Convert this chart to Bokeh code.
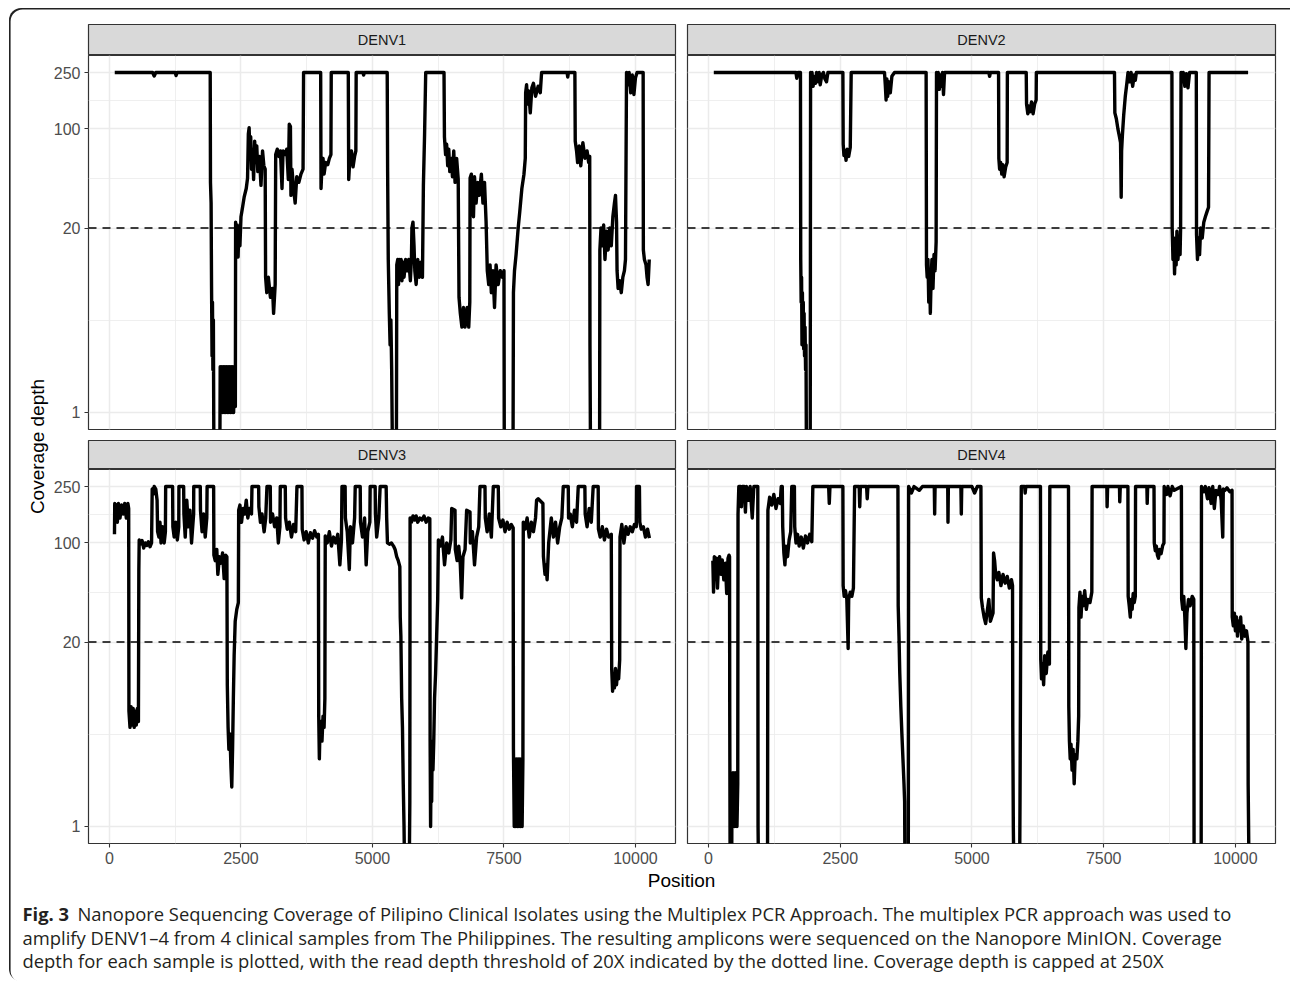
from bokeh.plotting import figure
from bokeh.layouts import column, row
from bokeh.models import Range1d, FixedTicker, Span, PrintfTickFormatter, Spacer
from bokeh.embed import file_html
from bokeh.resources import INLINE
from bokeh.core.properties import value
import math

# ---------------- data (position, coverage depth); 0 = no coverage ----------------
DENV1 = [
    (100, 250), (820, 250), (850, 236), (880, 250), (1250, 250), (1266, 238), (1285, 250),
    (1915, 250), (1920, 42), (1932, 30), (1940, 8), (1950, 2.5), (1958, 6), (1966, 2), (1975, 4.5), (1985, 0), (2098, 0),
    (2105, 2.1), (2120, 1), (2135, 2.1), (2150, 1), (2165, 2.1), (2180, 1), (2195, 2.1), (2210, 1), (2225, 2.1),
    (2240, 1), (2255, 2.1), (2270, 1), (2285, 2.1), (2300, 1), (2315, 2.1), (2330, 1), (2345, 2.1), (2360, 1),
    (2375, 2.1), (2393, 1.1),
    (2398, 22), (2415, 13), (2430, 21), (2445, 12.5), (2460, 20), (2480, 15), (2500, 24), (2530, 28), (2560, 33),
    (2600, 38), (2625, 45),
    (2640, 92), (2655, 102), (2670, 62), (2685, 88), (2700, 52), (2720, 72), (2740, 44), (2760, 82), (2780, 58),
    (2800, 76), (2820, 50), (2850, 64), (2880, 40), (2910, 70), (2935, 55), (2960, 52),
    (2968, 9), (2990, 7), (3020, 9), (3060, 6.5), (3100, 7.5), (3120, 5), (3150, 8),
    (3160, 66), (3190, 72), (3220, 64), (3250, 70), (3280, 38), (3300, 70), (3340, 66), (3370, 72), (3400, 44),
    (3418, 108), (3440, 104), (3450, 34), (3470, 52), (3500, 38), (3530, 30), (3560, 46), (3600, 42), (3640, 48),
    (3680, 52),
    (3690, 250), (4015, 250), (4022, 38), (4040, 55), (4060, 62), (4080, 48), (4110, 58), (4150, 56), (4180, 62),
    (4210, 66), (4216, 250),
    (4540, 250), (4548, 44), (4570, 62), (4600, 70), (4630, 54), (4660, 64), (4684, 70), (4690, 250),
    (4820, 250), (4832, 240), (4845, 250),
    (5280, 250), (5288, 50), (5300, 12), (5320, 5), (5335, 3), (5350, 4.5), (5365, 2), (5380, 0), (5455, 0),
    (5462, 11), (5480, 12), (5495, 8), (5510, 12), (5525, 9), (5545, 12), (5560, 8.5), (5580, 11.5), (5600, 9),
    (5630, 12), (5660, 10), (5690, 12), (5720, 8.5), (5740, 12), (5750, 20), (5770, 22), (5790, 15), (5805, 10),
    (5830, 8), (5860, 12), (5890, 9), (5920, 11.5), (5950, 9),
    (5968, 40), (5990, 90), (6012, 250), (6360, 250),
    (6368, 88), (6390, 66), (6410, 78), (6430, 55), (6450, 72), (6470, 50), (6500, 62), (6520, 46), (6545, 70),
    (6570, 42), (6600, 62), (6630, 44),
    (6645, 6.5), (6670, 5), (6700, 4), (6730, 5.5), (6760, 4), (6800, 5.5), (6830, 4), (6850, 6),
    (6856, 45), (6880, 48), (6900, 38), (6920, 24), (6940, 46), (6970, 30), (7000, 42), (7030, 34), (7070, 48),
    (7100, 30), (7130, 42), (7160, 22),
    (7183, 10), (7210, 8), (7235, 11), (7260, 7), (7290, 10), (7320, 5.5), (7350, 11), (7390, 8), (7430, 10),
    (7470, 9), (7500, 10),
    (7506, 0), (7672, 0), (7680, 7), (7700, 10), (7730, 13), (7770, 20), (7800, 26), (7840, 38), (7880, 48),
    (7905, 62),
    (7912, 180), (7930, 205), (7950, 150), (7970, 185), (8000, 130), (8030, 195), (8060, 210), (8100, 170),
    (8150, 200), (8190, 180),
    (8215, 250), (8700, 250), (8712, 232), (8725, 250), (8848, 250),
    (8855, 82), (8880, 70), (8900, 58), (8930, 76), (8960, 55), (9000, 80), (9040, 62), (9080, 70), (9110, 58),
    (9130, 64),
    (9135, 3), (9145, 0), (9318, 0),
    (9323, 14), (9345, 20), (9370, 15), (9395, 21), (9420, 12), (9450, 19), (9480, 14), (9510, 20), (9540, 15),
    (9570, 24), (9600, 30), (9620, 34), (9640, 22),
    (9650, 10), (9670, 7.5), (9700, 8.5), (9730, 7), (9760, 9), (9790, 10), (9810, 12),
    (9830, 250), (9860, 205), (9880, 250), (9910, 180), (9940, 240), (9970, 175), (10000, 230), (10030, 250),
    (10146, 250),
    (10150, 14), (10170, 12), (10200, 11), (10220, 9), (10240, 8), (10262, 12),
]

DENV2 = [
    (100, 250), (1660, 250), (1675, 228), (1700, 250), (1745, 250),
    (1750, 12), (1758, 6), (1766, 9), (1774, 3), (1782, 7), (1790, 3), (1798, 6), (1806, 2.8), (1814, 5),
    (1822, 2.5), (1832, 4), (1842, 2), (1850, 3), (1858, 0), (1930, 0),
    (1937, 250), (1950, 215), (1965, 250), (1985, 200), (2000, 235), (2030, 210), (2050, 250), (2080, 215),
    (2100, 250), (2120, 205), (2150, 240), (2180, 250), (2210, 225), (2240, 215), (2266, 250),
    (2550, 250), (2556, 78), (2570, 65), (2590, 70), (2610, 60), (2630, 72), (2660, 64), (2690, 74), (2708, 250),
    (3340, 250), (3355, 205), (3370, 160), (3385, 225), (3400, 170), (3420, 215), (3450, 180), (3480, 235),
    (3530, 250),
    (4130, 250), (4137, 11), (4150, 9), (4165, 12), (4180, 6), (4195, 10), (4210, 5), (4225, 9), (4240, 12),
    (4260, 7.5), (4280, 13), (4300, 10), (4320, 16), (4327, 250),
    (4340, 215), (4360, 250), (4380, 190), (4400, 240), (4420, 200), (4440, 250), (4460, 175), (4480, 250),
    (4545, 250), (5320, 250), (5335, 235), (5350, 250),
    (5505, 250), (5510, 62), (5525, 52), (5545, 58), (5565, 48), (5585, 56), (5610, 46), (5640, 54), (5668, 58),
    (5672, 250),
    (6030, 250), (6036, 150), (6060, 128), (6080, 145), (6100, 132), (6130, 155), (6160, 128), (6190, 150),
    (6218, 160), (6222, 250),
    (7705, 250), (7712, 130), (7740, 118), (7770, 100), (7800, 88), (7820, 80), (7832, 33), (7840, 70),
    (7855, 90), (7880, 125), (7910, 170), (7940, 210), (7962, 250), (7990, 215), (8020, 250), (8050, 200),
    (8080, 240), (8100, 220), (8120, 250),
    (8795, 250), (8800, 20), (8815, 12), (8830, 17), (8845, 9.5), (8860, 15), (8875, 11), (8890, 19),
    (8910, 12), (8930, 16), (8950, 13), (8960, 20),
    (8968, 250), (8990, 220), (9010, 250), (9040, 200), (9070, 245), (9100, 195), (9130, 250), (9258, 250),
    (9262, 18), (9280, 12), (9300, 17), (9320, 13), (9340, 20), (9370, 17), (9400, 22), (9430, 24),
    (9460, 26), (9490, 28), (9500, 250), (10241, 250),
]

DENV3 = [
    (95, 115), (100, 190), (120, 160), (135, 185), (150, 140), (170, 190), (200, 150), (230, 185), (260, 160),
    (290, 190), (320, 150), (350, 190), (365, 175),
    (370, 6.5), (390, 5), (410, 7), (430, 5.2), (450, 6.8), (470, 5), (490, 6.5), (510, 5.2), (530, 6.8),
    (550, 5.5),
    (558, 64), (565, 105), (590, 98), (620, 104), (650, 92), (680, 100), (710, 96), (740, 102), (770, 94),
    (800, 100),
    (812, 240), (830, 220), (850, 250), (880, 240), (905, 200), (915, 120), (940, 110), (960, 140), (980, 100),
    (1010, 130), (1040, 100), (1063, 120),
    (1068, 250), (1200, 250), (1205, 130), (1230, 110), (1260, 140), (1290, 105), (1317, 130), (1320, 250),
    (1410, 250), (1415, 160), (1440, 110), (1470, 200), (1500, 130), (1530, 170), (1560, 100), (1600, 160),
    (1602, 250), (1726, 250), (1730, 170), (1760, 120), (1790, 160), (1820, 110), (1850, 150), (1856, 250),
    (1980, 250),
    (1985, 82), (2010, 75), (2040, 90), (2060, 60), (2090, 80), (2120, 72), (2150, 85), (2180, 56), (2210, 82),
    (2232, 80),
    (2240, 10), (2255, 5), (2270, 3.5), (2290, 4.5), (2310, 2.6), (2325, 1.9), (2340, 3.5), (2355, 8), (2370, 16),
    (2390, 28), (2420, 34), (2450, 38),
    (2456, 170), (2480, 185), (2510, 140), (2540, 175), (2570, 160), (2600, 200), (2630, 150), (2660, 175),
    (2700, 160), (2709, 250), (2836, 250), (2840, 180), (2870, 140), (2900, 160), (2940, 120), (2970, 150),
    (2994, 250), (3057, 250), (3062, 140), (3100, 160), (3140, 130), (3180, 150), (3210, 100), (3240, 130),
    (3247, 250), (3342, 250), (3348, 150), (3380, 125), (3420, 140), (3460, 110), (3500, 135), (3540, 120),
    (3564, 250), (3659, 250), (3664, 125), (3700, 105), (3740, 120), (3780, 100), (3820, 118), (3860, 108),
    (3900, 122), (3940, 110), (3972, 115),
    (3978, 6), (3990, 3), (4000, 4.5), (4020, 5.5), (4040, 4), (4060, 6), (4080, 5), (4095, 8),
    (4102, 112), (4140, 100), (4180, 120), (4220, 95), (4260, 110), (4300, 100), (4340, 115), (4380, 70),
    (4410, 105),
    (4420, 250), (4480, 250), (4485, 150), (4520, 120), (4560, 65), (4580, 130), (4620, 100), (4660, 150),
    (4672, 250), (4767, 250), (4772, 140), (4810, 110), (4850, 150), (4880, 70), (4910, 120), (4950, 140),
    (4956, 250), (5051, 250), (5056, 160), (5080, 110), (5120, 150), (5146, 250), (5260, 250), (5270, 150),
    (5285, 100), (5320, 98), (5360, 100), (5400, 95), (5430, 90), (5460, 80), (5490, 75), (5520, 68),
    (5528, 30), (5540, 22), (5555, 8), (5570, 5), (5585, 2), (5600, 1), (5610, 0), (5700, 0), (5710, 1.5),
    (5715, 150), (5740, 140), (5770, 155), (5800, 145), (5830, 155), (5860, 140), (5900, 150), (5940, 145),
    (5980, 155), (6020, 140), (6060, 150), (6090, 148),
    (6096, 4), (6105, 1), (6115, 3), (6125, 1.5), (6135, 4), (6150, 2.5), (6165, 4), (6180, 8), (6200, 12),
    (6220, 22), (6240, 40),
    (6253, 105), (6290, 95), (6330, 110), (6370, 70), (6410, 100), (6450, 85), (6490, 105), (6506, 175),
    (6569, 170), (6575, 90), (6610, 75), (6640, 95), (6670, 70), (6695, 41), (6720, 80), (6760, 90),
    (6790, 170), (6854, 165), (6860, 100), (6900, 120), (6940, 70), (6980, 110), (7020, 130), (7044, 250),
    (7139, 250), (7145, 150), (7180, 120), (7220, 160), (7260, 110), (7297, 250), (7392, 250),
    (7398, 150), (7440, 130), (7480, 145), (7520, 120), (7560, 140), (7600, 125), (7640, 135), (7675, 128),
    (7680, 3.5), (7695, 1), (7710, 3), (7725, 1), (7740, 3), (7755, 1), (7770, 3), (7785, 1), (7800, 3),
    (7815, 1), (7830, 3), (7845, 1), (7860, 3),
    (7867, 140), (7900, 125), (7940, 150), (7980, 110), (8020, 140), (8060, 120), (8100, 150), (8120, 200),
    (8150, 205), (8240, 190), (8250, 80), (8280, 60), (8300, 70), (8320, 55), (8350, 100), (8400, 150),
    (8440, 110), (8480, 140), (8520, 100), (8560, 130), (8600, 150), (8627, 250), (8722, 250), (8728, 150),
    (8760, 160), (8800, 130), (8840, 170), (8880, 140), (8912, 250), (9038, 250), (9044, 160), (9080, 130),
    (9120, 175), (9160, 140), (9196, 250), (9291, 250),
    (9296, 125), (9330, 110), (9370, 130), (9410, 105), (9450, 125), (9490, 110), (9540, 115),
    (9548, 13), (9565, 9), (9580, 12), (9600, 9.5), (9620, 13), (9640, 10), (9660, 12.5), (9680, 11),
    (9700, 15),
    (9706, 110), (9740, 135), (9780, 100), (9820, 130), (9860, 115), (9900, 130), (9940, 120), (9980, 135),
    (10015, 130), (10020, 250), (10075, 250), (10082, 140), (10110, 125), (10150, 130), (10190, 110),
    (10230, 125), (10265, 108),
]

DENV4 = [
    (82, 75), (95, 45), (110, 80), (130, 70), (150, 78), (170, 48), (190, 72), (210, 80), (240, 60), (260, 76),
    (290, 55), (320, 72), (345, 44), (370, 78), (390, 82), (399, 80),
    (403, 6), (410, 0), (440, 0), (445, 2), (455, 1), (465, 2.4), (475, 1.1), (485, 2.2), (495, 1), (505, 2.4),
    (515, 1.1), (525, 2.2), (540, 1), (555, 2),
    (560, 160), (575, 250), (610, 250), (625, 180), (640, 250), (680, 250), (700, 165), (720, 250), (760, 200),
    (790, 250), (830, 150), (860, 250), (935, 250),
    (940, 1), (948, 0), (1120, 0), (1127, 170), (1160, 210), (1200, 185), (1240, 220), (1280, 175), (1320, 205),
    (1360, 190), (1380, 250), (1400, 250),
    (1408, 130), (1430, 85), (1450, 70), (1470, 95), (1500, 80), (1530, 105), (1560, 120), (1580, 250),
    (1630, 250), (1636, 130), (1660, 100), (1690, 115), (1720, 95), (1760, 110), (1800, 92), (1840, 112),
    (1880, 100), (1920, 115), (1960, 102), (1980, 250),
    (2280, 250), (2292, 190), (2305, 250), (2550, 250), (2555, 50), (2575, 42), (2600, 46), (2625, 40),
    (2650, 18), (2660, 40), (2690, 45), (2720, 42), (2750, 48), (2773, 250),
    (2860, 250), (2870, 180), (2882, 250), (3000, 250), (3012, 205), (3025, 250), (3595, 250),
    (3600, 36), (3615, 22), (3630, 12), (3650, 7), (3670, 4.5), (3690, 3), (3710, 2), (3722, 1.5), (3728, 0),
    (3792, 0), (3798, 250), (3850, 225), (3900, 250), (4000, 235), (4060, 250), (4285, 250), (4292, 160),
    (4300, 250), (4540, 250), (4545, 140), (4552, 250), (4790, 250), (4798, 160), (4806, 250), (5000, 250),
    (5050, 225), (5100, 250), (5170, 250),
    (5177, 41), (5200, 35), (5230, 30), (5260, 27), (5290, 33), (5320, 40), (5350, 28), (5400, 32),
    (5410, 85), (5430, 75), (5450, 60), (5480, 55), (5510, 62), (5550, 50), (5590, 60), (5630, 52), (5670, 58),
    (5710, 48), (5750, 55), (5770, 50),
    (5775, 5), (5785, 1), (5795, 0), (5905, 0), (5912, 1.5), (5936, 250), (6000, 250), (6010, 225), (6022, 250),
    (6300, 250),
    (6306, 15), (6320, 11), (6340, 14), (6360, 10), (6380, 16), (6410, 12), (6440, 17), (6470, 14), (6478, 250),
    (6832, 250),
    (6838, 7), (6850, 4), (6865, 3), (6880, 3.8), (6900, 2.5), (6920, 3.5), (6940, 2), (6960, 3.2), (6990, 3),
    (7010, 4), (7025, 6),
    (7030, 35), (7050, 45), (7070, 30), (7090, 42), (7110, 36), (7140, 46), (7170, 34), (7200, 40), (7240, 38),
    (7275, 45), (7280, 250),
    (7560, 250), (7565, 180), (7575, 250), (7800, 250), (7805, 195), (7815, 250), (7960, 250),
    (7965, 42), (7985, 36), (8005, 30), (8020, 40), (8040, 34), (8060, 44), (8080, 38), (8100, 42), (8105, 250),
    (8320, 250), (8326, 190), (8335, 250), (8455, 250),
    (8460, 100), (8480, 88), (8500, 95), (8520, 82), (8540, 78), (8560, 90), (8590, 84), (8620, 96), (8644, 100),
    (8648, 250), (8700, 220), (8720, 250), (8760, 215), (8800, 250), (8840, 235), (8975, 250),
    (8980, 40), (9000, 34), (9020, 42), (9040, 30), (9060, 18), (9080, 32), (9110, 40), (9140, 36), (9180, 42),
    (9210, 40),
    (9216, 0), (9350, 0), (9356, 250), (9400, 230), (9430, 250), (9470, 205), (9500, 245), (9540, 190),
    (9570, 250), (9600, 175), (9630, 235), (9670, 220), (9700, 250), (9730, 200), (9760, 110), (9770, 240),
    (9800, 235), (9840, 245), (9890, 230), (9936, 235),
    (9940, 30), (9960, 26), (9980, 32), (10000, 24), (10020, 30), (10040, 22), (10060, 28), (10080, 24),
    (10100, 30), (10120, 21), (10150, 26), (10180, 22), (10210, 24), (10238, 20),
    (10242, 2), (10250, 1), (10258, 0), (10292, 0),
]

SAMPLE_NAMES = ["DENV1", "DENV2", "DENV3", "DENV4"]
SAMPLE_DATA = [DENV1, DENV2, DENV3, DENV4]

Y_TICKS = [1, 20, 100, 250]
Y_MINOR = [4.472, 44.72, 158.1]
X_TICKS = [0, 2500, 5000, 7500, 10000]
X_MINOR = [1250, 3750, 6250, 8750]
THRESHOLD = 20

X_RANGE = (-399, 10761)
Y_RANGE = (10 ** -0.12, 10 ** 2.518)

CAPTION = [
    "Nanopore Sequencing Coverage of Pilipino Clinical Isolates using the Multiplex PCR Approach. The multiplex PCR approach was used to",
    "amplify DENV1\u20134 from 4 clinical samples from The Philippines. The resulting amplicons were sequenced on the Nanopore MinION. Coverage",
    "depth for each sample is plotted, with the read depth threshold of 20X indicated by the dotted line. Coverage depth is capped at 250X",
]

# ---------------- styling ----------------
FONT = "Liberation Sans"
CAP_FONT = "Open Sans"
TICK_SIZE = "16px"
STRIP_SIZE = "14.5px"
TITLE_SIZE = "19px"
CAP_SIZE = "18.4px"

FRAME_H = 374
LEFT_BORDER = 38     # space for y tick labels (frame starts at page x = 88)
YLAB_W = 41          # page x 9..50


def make_panel(idx):
    col, rw = idx % 2, idx // 2
    left, bottom = col == 0, rw == 1
    mbl = LEFT_BORDER if left else 6
    mbr = 6 if left else 15
    fw = 587 if left else 588
    mbb = 26 if bottom else 11
    p = figure(width=mbl + fw + mbr, height=FRAME_H + mbb,
               x_range=Range1d(*X_RANGE), y_range=Range1d(*Y_RANGE),
               y_axis_type="log",
               x_axis_location="below" if bottom else None,
               y_axis_location="left" if left else None,
               min_border_left=mbl, min_border_right=mbr, min_border_top=0, min_border_bottom=mbb,
               output_backend="svg", toolbar_location=None)
    p.background_fill_color = "white"
    p.border_fill_color = None
    p.outline_line_color = "#333333"
    p.outline_line_width = 1.2
    p.xgrid.ticker = FixedTicker(ticks=X_TICKS, minor_ticks=X_MINOR)
    p.ygrid.ticker = FixedTicker(ticks=Y_TICKS, minor_ticks=Y_MINOR)
    for g in (p.xgrid, p.ygrid):
        g.grid_line_color = "#ebebeb"
        g.grid_line_width = 1.5
        g.minor_grid_line_color = "#ebebeb"
        g.minor_grid_line_width = 0.8
    if left:
        ax = p.yaxis
        ax.ticker = FixedTicker(ticks=Y_TICKS, minor_ticks=[])
        ax.formatter = PrintfTickFormatter(format="%d")
    if bottom:
        ax = p.xaxis
        ax.ticker = FixedTicker(ticks=X_TICKS, minor_ticks=[])
        ax.formatter = PrintfTickFormatter(format="%d")
    for ax in list(p.xaxis) + list(p.yaxis):
        ax.axis_line_color = None
        ax.major_tick_in = 0
        ax.major_tick_out = 4
        ax.major_tick_line_color = "#333333"
        ax.major_tick_line_width = 1.1
        ax.minor_tick_line_color = None
        ax.major_label_text_color = "#4d4d4d"
        ax.major_label_text_font = FONT
        ax.major_label_text_font_size = TICK_SIZE
        ax.major_label_standoff = 4

    data = SAMPLE_DATA[idx]
    xs = [d[0] for d in data]
    ys = [d[1] if d[1] > 0 else 0.5 for d in data]
    p.line(xs, ys, line_color="black", line_width=3.4, line_join="round")
    p.add_layout(Span(location=THRESHOLD, dimension="width", line_color="black",
                      line_dash="8 6", line_width=1.4))
    return p


def make_strip(idx):
    col, rw = idx % 2, idx // 2
    left = col == 0
    mbl = LEFT_BORDER if left else 6
    mbr = 6 if left else 15
    fw = 587 if left else 588
    top = 16 if rw == 0 else 0
    fh = 31 if rw == 0 else 29
    s = figure(width=mbl + fw + mbr, height=fh + top, x_range=Range1d(0, 1), y_range=Range1d(0, 1),
               x_axis_location=None, y_axis_location=None,
               min_border_left=mbl, min_border_right=mbr, min_border_top=top, min_border_bottom=0,
               output_backend="svg", toolbar_location=None)
    s.grid.visible = False
    s.background_fill_color = "#d9d9d9"
    s.border_fill_color = None
    s.outline_line_color = "#333333"
    s.outline_line_width = 1.2
    s.text(x=[0.5], y=[0.5], text=[SAMPLE_NAMES[idx]], text_align="center", text_baseline="middle",
           text_font=value(FONT), text_font_size=value(STRIP_SIZE), text_color="#1a1a1a")
    return s


def blank(w, h):
    f = figure(width=w, height=h, x_range=Range1d(0, w), y_range=Range1d(h, 0),
               x_axis_location=None, y_axis_location=None,
               min_border=0, output_backend="svg", toolbar_location=None)
    f.grid.visible = False
    f.outline_line_color = None
    f.background_fill_color = None
    f.border_fill_color = None
    return f


panels = [make_panel(i) for i in range(4)]
strips = [make_strip(i) for i in range(4)]

GRID_H = 47 + (FRAME_H + 11) + 29 + (FRAME_H + 26)   # 861 -> page y 8..869

ylab = blank(YLAB_W, GRID_H)
ylab.text(x=[28], y=[438], text=["Coverage depth"], angle=math.pi / 2, text_align="center",
          text_baseline="middle", text_font=value(FONT), text_font_size=value(TITLE_SIZE), text_color="black")

BOTTOM_H = 112            # page y 869..981
bot = blank(1281, BOTTOM_H)
bot.text(x=[672], y=[11], text=["Position"], text_align="center", text_baseline="middle",
         text_font=value(FONT), text_font_size=value(TITLE_SIZE), text_color="black")
cap_y = [44, 68, 91]
bot.text(x=[13], y=[cap_y[0]], text=["Fig. 3"], text_align="left", text_baseline="middle",
         text_font=value(CAP_FONT), text_font_size=value(CAP_SIZE), text_font_style="bold",
         text_color="#231f20")
bot.text(x=[68], y=[cap_y[0]], text=[CAPTION[0]], text_align="left", text_baseline="middle",
         text_font=value(CAP_FONT), text_font_size=value(CAP_SIZE), text_color="#231f20")
bot.text(x=[13, 13], y=cap_y[1:], text=CAPTION[1:], text_align="left", text_baseline="middle",
         text_font=value(CAP_FONT), text_font_size=value(CAP_SIZE), text_color="#231f20")

grid = column(row(strips[0], strips[1], spacing=0),
              row(panels[0], panels[1], spacing=0),
              row(strips[2], strips[3], spacing=0),
              row(panels[2], panels[3], spacing=0), spacing=0)
inner = column(row(ylab, grid, spacing=0), bot, spacing=0,
               styles={"box-shadow": "inset 1.6px 1.6px 0 0 #222222",
                       "border-top-left-radius": "12px",
                       "border-bottom-left-radius": "12px"})
root = column(Spacer(width=1290, height=8),
              row(Spacer(width=9, height=GRID_H + BOTTOM_H), inner, spacing=0),
              spacing=0)

open("out.html", "w").write(file_html(root, INLINE, title="Coverage"))
